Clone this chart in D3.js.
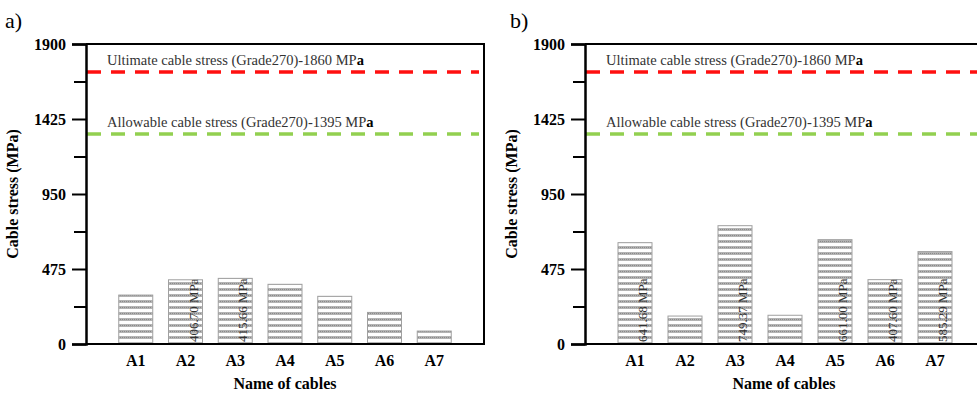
<!DOCTYPE html>
<html>
<head>
<meta charset="utf-8">
<script src="https://cdn.jsdelivr.net/npm/d3@7"></script>
<style>
  body { margin: 0; background: #fff; }
  svg text { font-family: "Liberation Serif", Tinos, "DejaVu Serif", serif !important; }
</style>
</head>
<body>
<div id="chart"></div>
<script>
const w = 977;
const h = 394;

const cables = ["A1", "A2", "A3", "A4", "A5", "A6", "A7"];
const stressA = [310, 406.70, 415.66, 378, 302, 200, 82];
const stressB = [641.68, 177, 749.37, 182, 661.00, 407.60, 585.29];
const barLabelsA = ["", "406.70 MPa", "415.66 MPa", "", "", "", ""];
const barLabelsB = ["641.68 MPa", "", "749.37 MPa", "", "661.00 MPa", "407.60 MPa", "585.29 MPa"];
const yTicks = [0, 475, 950, 1425, 1900];
const yMinor = [237.5, 712.5, 1187.5, 1662.5];
// reference lines, drawn where they sit in the figure
const refLevels = [1722, 1330];
const refLabels = ["Ultimate cable stress (Grade270)-1860 MP", "Allowable cable stress (Grade270)-1395 MP"];
const refColors = ["#ff1010", "#92d050"];

const panels = [
  { tag: "a)", tagX: 5, left: 86, right: 484, values: stressA, labels: barLabelsA, frameRight: true, id: "a" },
  { tag: "b)", tagX: 510, left: 585, right: 985, values: stressB, labels: barLabelsB, frameRight: false, id: "b" }
];
const plotTop = 44, plotBottom = 344;

const svg = d3.select("#chart").append("svg")
  .attr("width", w)
  .attr("height", h);

const defs = svg.append("defs");
const pat = defs.append("pattern")
  .attr("id", "stripes")
  .attr("patternUnits", "userSpaceOnUse")
  .attr("width", 2)
  .attr("height", 6);
pat.append("rect").attr("width", 2).attr("height", 6).attr("fill", "#fff");
pat.append("rect").attr("width", 2).attr("height", 3).attr("fill", "#b4b4b4");
pat.append("rect").attr("x", 0).attr("y", 1).attr("width", 1).attr("height", 1).attr("fill", "#8a8a8a");

const y = d3.scaleLinear().domain([0, 1900]).range([plotBottom, plotTop]);

panels.forEach(p => {
  const g = svg.append("g");
  const x = d3.scalePoint().domain(cables).range([p.left, p.right]).padding(1);
  const bw = 35;

  g.append("text")
    .attr("x", p.tagX).attr("y", 28)
    .style("font-size", "22px")
    .text(p.tag);

  // bars
  const bars = g.append("g").selectAll("g")
    .data(cables.map((c, i) => ({ c, v: p.values[i], label: p.labels[i], i })))
    .join("g");

  bars.append("clipPath")
    .attr("id", d => `clip-${p.id}-${d.i}`)
    .append("rect")
    .attr("x", d => x(d.c) - bw / 2)
    .attr("y", d => y(d.v))
    .attr("width", bw)
    .attr("height", d => plotBottom - y(d.v));

  bars.append("rect")
    .attr("x", d => x(d.c) - bw / 2 + 0.5)
    .attr("y", d => y(d.v))
    .attr("width", bw - 1)
    .attr("height", d => plotBottom - y(d.v))
    .attr("fill", "url(#stripes)")
    .attr("stroke", "#a0a0a0")
    .attr("stroke-width", 1);

  bars.filter(d => d.label)
    .append("g")
    .attr("clip-path", d => `url(#clip-${p.id}-${d.i})`)
    .append("text")
    .attr("transform", d => `translate(${x(d.c) + 12},${plotBottom - 2}) rotate(-90)`)
    .style("font-size", "13px")
    .attr("fill", "#333")
    .text(d => d.label);

  // reference lines
  refLevels.forEach((lv, i) => {
    g.append("line")
      .attr("x1", p.left + 1).attr("x2", Math.min(p.right - 5, w))
      .attr("y1", y(lv)).attr("y2", y(lv))
      .attr("stroke", refColors[i])
      .attr("stroke-width", 3.5)
      .attr("stroke-dasharray", "14,10");
    const t = g.append("text")
      .attr("x", p.left + 21)
      .attr("y", y(lv) - 7)
      .style("font-size", "14.5px")
      .attr("fill", "#333")
      .text(refLabels[i]);
    t.append("tspan").style("font-weight", "bold").attr("fill", "#000").text("a");
  });

  // frame
  g.append("line")
    .attr("x1", p.left).attr("x2", p.right + 1)
    .attr("y1", plotTop).attr("y2", plotTop)
    .attr("stroke", "#000").attr("stroke-width", 2);
  if (p.frameRight) {
    g.append("line")
      .attr("x1", p.right).attr("x2", p.right)
      .attr("y1", plotTop).attr("y2", plotBottom)
      .attr("stroke", "#000").attr("stroke-width", 2);
  }
  g.append("line")
    .attr("x1", p.left).attr("x2", p.right + 1)
    .attr("y1", plotBottom).attr("y2", plotBottom)
    .attr("stroke", "#000").attr("stroke-width", 2);

  // y axis
  const yAxis = d3.axisLeft(y).tickValues(yTicks).tickSize(14).tickPadding(6).tickFormat(d3.format("d"));
  const ya = g.append("g")
    .attr("transform", `translate(${p.left},0)`)
    .call(yAxis);
  ya.select(".domain").attr("stroke-width", 2.5);
  ya.selectAll(".tick line").attr("stroke-width", 2);
  ya.selectAll(".tick text")
    .style("font-size", "16px")
    .style("font-weight", "bold")
    .attr("fill", "#000");
  g.append("g")
    .attr("transform", `translate(${p.left},0)`)
    .call(d3.axisLeft(y).tickValues(yMinor).tickSize(12).tickFormat(""))
    .call(s => s.select(".domain").remove())
    .selectAll(".tick line").attr("stroke-width", 2);

  // x labels
  g.append("g").selectAll("text")
    .data(cables)
    .join("text")
    .attr("x", d => x(d))
    .attr("y", 366)
    .attr("text-anchor", "middle")
    .style("font-size", "16px")
    .style("font-weight", "bold")
    .text(d => d);

  g.append("text")
    .attr("x", (p.left + Math.min(p.right, w)) / 2 + (p.frameRight ? 0 : 3))
    .attr("y", 389)
    .attr("text-anchor", "middle")
    .style("font-size", "16px")
    .style("font-weight", "bold")
    .text("Name of cables");

  g.append("text")
    .attr("transform", `translate(${p.left - 68},${(plotTop + plotBottom) / 2}) rotate(-90)`)
    .attr("text-anchor", "middle")
    .style("font-size", "16px")
    .style("font-weight", "bold")
    .text("Cable stress (MPa)");
});
</script>
</body>
</html>
